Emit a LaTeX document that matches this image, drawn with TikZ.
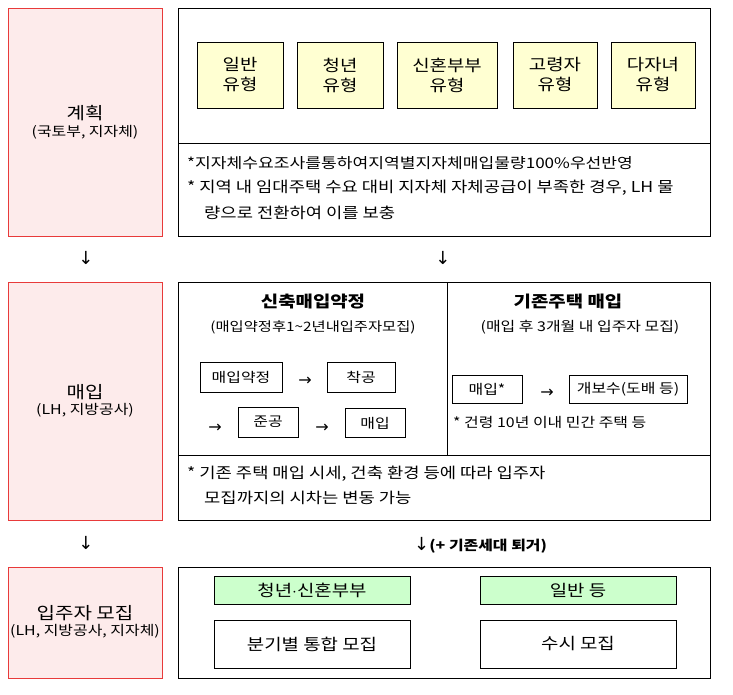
\documentclass[tikz,border=0pt]{standalone}
\usepackage{fontspec}
\setmainfont[FakeStretch=1.18]{Noto Sans CJK KR}
\newfontfamily\arr{DejaVu Sans}
\definecolor{pinkf}{HTML}{FDEBEB}
\definecolor{redb}{HTML}{E83A3A}
\definecolor{yel}{HTML}{FFFFD2}
\definecolor{grn}{HTML}{CCFFCC}
\tikzset{
 left/.style={draw=redb,fill=pinkf,line width=0.8pt},
 frame/.style={draw=black,line width=0.6pt},
 typ/.style={draw=black,fill=yel,line width=0.6pt,align=center,font=\fontsize{16}{20}\selectfont},
 sb/.style={draw=black,line width=0.6pt,font=\fontsize{13.5}{16}\selectfont},
 gb/.style={draw=black,fill=grn,line width=0.6pt,font=\fontsize{16}{18}\selectfont},
 t/.style={font=\fontsize{15}{18}\selectfont},
 st/.style={font=\fontsize{13.5}{16}\selectfont},
}
\begin{document}
\begin{tikzpicture}[x=1pt,y=-1pt]
\useasboundingbox (0,0) rectangle (733,694);
% left boxes
\draw[left] (8,8) rectangle (162,236);
\node[align=center] (l1) at (85,122) {{\fontsize{17}{20}\selectfont 계획}\\[3pt]{\fontsize{13.5}{16}\selectfont (국토부, 지자체)}};
\draw[left] (8,282) rectangle (162,520);
\node[align=center] (l2) at (85,401) {{\fontsize{17}{20}\selectfont 매입}\\[3pt]{\fontsize{13.5}{16}\selectfont (LH, 지방공사)}};
\draw[left] (8,567) rectangle (162,678);
\node[align=center] (l3) at (85,622) {{\fontsize{17}{20}\selectfont 입주자 모집}\\[3pt]{\fontsize{13.5}{16}\selectfont (LH, 지방공사, 지자체)}};
% top right
\draw[frame] (178,8) rectangle (710,236);
\draw[frame] (178,143) -- (710,143);
\node[typ,minimum width=86pt,minimum height=66pt] (a1) at (240,75) {일반\\유형};
\node[typ,minimum width=86pt,minimum height=66pt] (a2) at (340,75) {청년\\유형};
\node[typ,minimum width=100pt,minimum height=66pt] (a3) at (447,75) {신혼부부\\유형};
\node[typ,minimum width=84pt,minimum height=66pt] (a4) at (555,75) {고령자\\유형};
\node[typ,minimum width=84pt,minimum height=66pt] (a5) at (653,75) {다자녀\\유형};
\node[t,anchor=west,inner sep=0] (n1) at (187,163) {\fontsize{14.5}{16}\selectfont *지자체수요조사를통하여지역별지자체매입물량100\%우선반영};
\node[t,anchor=west,inner sep=0] (n2) at (187,188) {* 지역 내 임대주택 수요 대비 지자체 자체공급이 부족한 경우, LH 물};
\node[t,anchor=west,inner sep=0] (n3) at (204,213) {량으로 전환하여 이를 보충};
% arrows
\node[font=\arr\fontsize{18}{18}\selectfont] (d1) at (86,258) {↓};
\node[font=\arr\fontsize{18}{18}\selectfont] (d2) at (443,258) {↓};
% middle
\draw[frame] (178,282) rectangle (710,520);
\draw[frame] (447,282) -- (447,455);
\draw[frame] (178,455) -- (710,455);
\node[font=\bfseries\fontsize{16}{18}\selectfont] (h1) at (313,302) {신축매입약정};
\node[st] (s1) at (313,327) {\fontsize{13}{15}\selectfont(매입약정후1\textasciitilde2년내입주자모집)};
\node[font=\bfseries\fontsize{16}{18}\selectfont] (h2) at (568,302) {기존주택 매입};
\node[st] (s2) at (580,327) {(매입 후 3개월 내 입주자 모집)};
\node[sb,minimum width=82pt,minimum height=30pt] (b1) at (241,377) {매입약정};
\node[sb,minimum width=68pt,minimum height=30pt] (b2) at (361,377) {착공};
\node[sb,minimum width=60pt,minimum height=30pt] (b3) at (268,422) {준공};
\node[sb,minimum width=60pt,minimum height=29pt] (b4) at (375,423) {매입};
\node[font=\arr\fontsize{16}{16}\selectfont] (r1) at (305,381) {→};
\node[font=\arr\fontsize{16}{16}\selectfont] (r2) at (215,428) {→};
\node[font=\arr\fontsize{16}{16}\selectfont] (r3) at (322,428) {→};
\node[sb,minimum width=70pt,minimum height=28pt] (b5) at (487,389) {매입*};
\node[sb,minimum width=118pt,minimum height=28pt,inner xsep=1pt] (b6) at (628,389) {개보수(도배 등)};
\node[font=\arr\fontsize{16}{16}\selectfont] (r4) at (547,393) {→};
\node[st,anchor=west,inner sep=0] (n4) at (453,422) {* 건령 10년 이내 민간 주택 등};
\node[t,anchor=west,inner sep=0] (n5) at (187,474) {* 기존 주택 매입 시세, 건축 환경  등에 따라 입주자};
\node[t,anchor=west,inner sep=0] (n6) at (204,498) {모집까지의 시차는 변동 가능};
\node[font=\arr\fontsize{18}{18}\selectfont] (d3) at (86,543) {↓};
\node[anchor=west,inner sep=0] (d4) at (414,545) {{\arr\fontsize{18}{18}\selectfont ↓}{\bfseries\fontsize{13.5}{16}\selectfont (+ 기존세대 퇴거)}};
% bottom
\draw[frame] (178,567) rectangle (710,678);
\node[gb,minimum width=196pt,minimum height=28pt] (g1) at (312,590) {청년$\cdot$신혼부부};
\node[gb,minimum width=196pt,minimum height=28pt] (g2) at (578,590) {일반 등};
\node[sb,font=\fontsize{16}{18}\selectfont,minimum width=196pt,minimum height=48pt] (w1) at (312,644) {분기별 통합 모집};
\node[sb,font=\fontsize{16}{18}\selectfont,minimum width=196pt,minimum height=48pt] (w2) at (578,644) {수시 모집};
\end{tikzpicture}
\end{document}
